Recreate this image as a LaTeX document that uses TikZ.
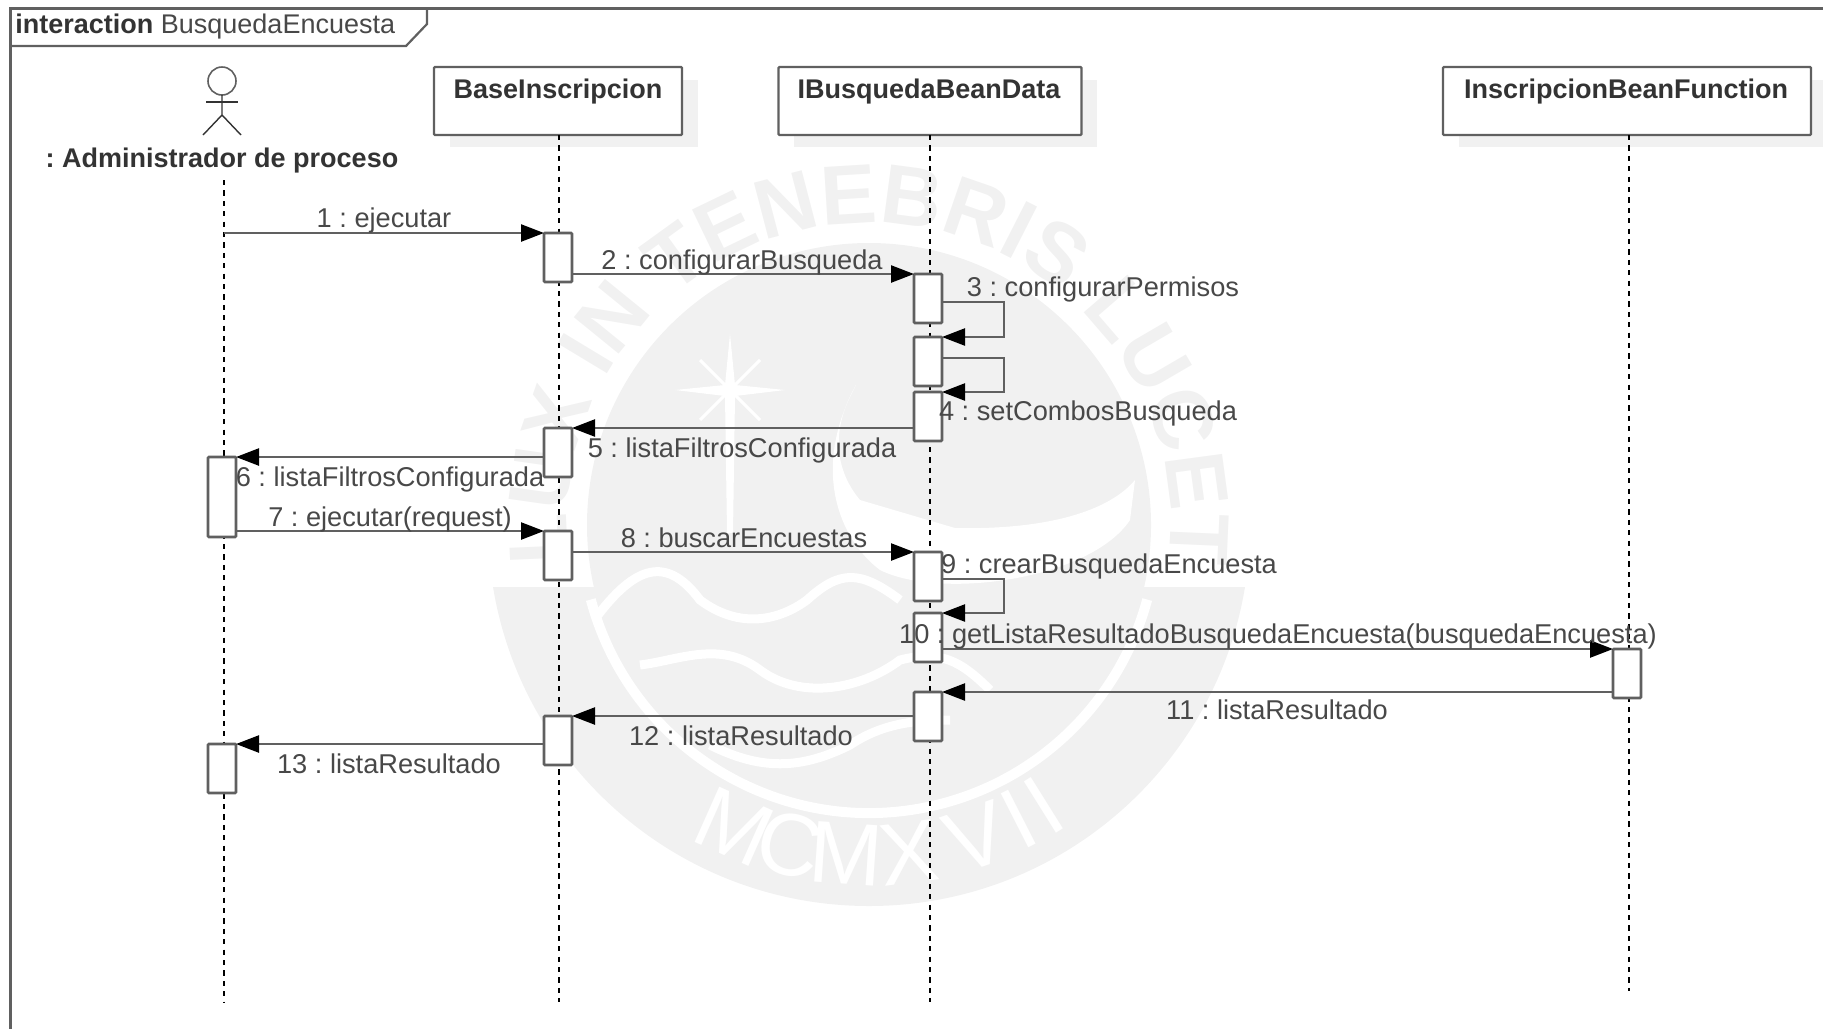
\documentclass[tikz,border=0pt]{standalone}
\usepackage{fontspec}
\setmainfont{Liberation Sans}
\usetikzlibrary{arrows.meta,decorations.text}

\definecolor{wmgray}{HTML}{F1F1F1}
\definecolor{linegray}{HTML}{606060}
\definecolor{textgray}{HTML}{484848}

\tikzset{
  objbox/.style={draw=linegray, fill=white, line width=1.1pt, rounded corners=0.5pt, minimum height=34pt, inner sep=0pt, outer sep=0pt},
  objshadow/.style={fill=wmgray},
  activ/.style={draw=linegray, fill=white, line width=1.3pt, rounded corners=0.5pt, minimum width=14pt, minimum height=24.5pt, anchor=north, inner sep=0pt, outer sep=0pt},
  msg/.style={draw=linegray, line width=1.2pt, -{Triangle[length=11.5pt,width=8.5pt,color=black]}},
  lifeline/.style={draw=black, line width=0.9pt, dash pattern=on 2.6pt off 2.6pt},
  msglabel/.style={text=textgray, font=\fontsize{13.6}{15}\selectfont\frenchspacing, inner sep=0pt, yshift=-1.1pt},
  objlabel/.style={text=black!80, font=\fontsize{13.5}{15}\bfseries\selectfont\frenchspacing, inner sep=0pt, yshift=-1.1pt},
  sealyear/.style={text=white, font=\fontsize{44}{46}\selectfont, inner sep=0pt},
}

\begin{document}
\begin{tikzpicture}[x=0.5pt,y=-0.5pt]
\useasboundingbox (0,0) rectangle (1823,1029);
\coordinate (seal) at (869,525);
\coordinate (bot) at (0,1002);

% sello de fondo
\begin{scope}
\clip (0,587) rectangle (1823,1029);
\fill[wmgray] (seal) circle (190.5pt);
\end{scope}
\fill[wmgray] (seal) circle (141pt);
\draw[white, line width=5pt] ([shift={(195:144pt)}]seal) arc[start angle=195, end angle=345, radius=144pt];
\fill[white] (730,334) -- (735,385) -- (785,390) -- (735,396) -- (733,533) -- (727,533) -- (725,396) -- (675,390) -- (725,385) -- cycle;
\draw[white, line width=1.5pt] (700,360) -- (760,420) (760,360) -- (700,420);
\fill[white] (856,385) .. controls (830,430) and (835,470) .. (860,500) -- (955,528) .. controls (1050,530) and (1110,510) .. (1135,480) -- (1130,520) .. controls (1090,580) and (940,600) .. (880,570) .. controls (840,540) and (810,470) .. (856,385) -- cycle;
\draw[white, line width=4.5pt] (598,615) .. controls (640,560) and (670,560) .. (700,600) .. controls (740,630) and (780,620) .. (807,600) .. controls (840,570) and (860,570) .. (900,600);
\draw[white, line width=4.5pt] (640,665) .. controls (680,660) and (720,640) .. (760,670) .. controls (800,700) and (860,690) .. (900,660) .. controls (940,650) and (960,660) .. (990,690);
\draw[white, line width=4.5pt] (710,745) .. controls (760,770) and (800,770) .. (850,745) .. controls (880,725) and (910,720) .. (950,720);
\path[decorate, decoration={text along path, text align=center, text={|\color{wmgray}\bfseries\fontsize{42}{44}\selectfont|LUX IN TENEBRIS LUCET}}]
  ([shift={(215:151pt)}]seal) arc[start angle=215, end angle=-35, radius=151pt];
\foreach \ch/\ang [count=\k] in {M/246,C/256,M/266,X/277,V/289,I/297,I/302}
  \node[sealyear, rotate=\ang+90] (year\k) at ([shift={(\ang:165pt)}]seal) {\ch};

% marco
\draw[linegray, line width=1.5pt] (1823,8) -- (10,8) -- (10,1029);
\draw[linegray, line width=1.1pt] (10,46) -- (406,46) -- (427,24) -- (427,8);
\node[inner sep=0pt, anchor=west, yshift=-0.6pt, font=\fontsize{13.5}{15}\selectfont] (frametitle) at (15,25) {\textcolor{black!80}{\bfseries interaction} \textcolor{textgray}{BusquedaEncuesta}};

% objetos
\fill[objshadow] (450,80) rectangle (698,147);
\fill[objshadow] (794,80) rectangle (1097,147);
\fill[objshadow] (1459,80) rectangle (1823,147);
\node[objbox, minimum width=124pt] (base) at (558,101) {};
\node[objbox, minimum width=151.5pt] (bean) at (930,101) {};
\node[objbox, minimum width=184pt] (func) at (1627,101) {};
\node[objlabel] (basename) at (558,89) {BaseInscripcion};
\node[objlabel] (beanname) at (929,89) {IBusquedaBeanData};
\node[objlabel] (funcname) at (1626,89) {InscripcionBeanFunction};

% actor
\node[draw=linegray, circle, line width=0.8pt, minimum size=14pt, inner sep=0pt, outer sep=0pt] (head) at (222,81) {};
\draw[black!80, line width=0.7pt] (head.south) -- ++(0,20) coordinate (hip) -- ++(-19,20) (hip) -- ++(19,20);
\draw[black!80, line width=0.7pt] (206,102) -- (238,102);
\node[objlabel] (actorname) at (222,158) {: Administrador de proceso};
\coordinate (actortop) at (224,180);

% lineas de vida
\draw[lifeline] (actortop) -- (actortop |- bot);
\draw[lifeline] (559,135) -- (559,1002);
\draw[lifeline] (bean.south) -- (bean.south |- bot);
\draw[lifeline] (1629,135) -- (1629,991);

% activaciones
\node[activ, minimum height=40pt] (a1) at (222,457) {};
\node[activ] (a2) at (222,744) {};
\foreach \nm/\yy in {b1/233,b2/428,b3/531,b4/716}
  \node[activ] (\nm) at (558,\yy) {};
\foreach \nm/\yy in {i1/274,i2/337,i3/392,i4/552,i5/613,i6/692}
  \node[activ] (\nm) at (928,\yy) {};
\node[activ] (f1) at (1627,649) {};

% mensajes
\coordinate (s3) at (1004,302);
\coordinate (s4) at (1004,358);
\coordinate (s9) at (1004,579);
\draw[msg] (actortop |- b1.north) -- (b1.north west);
\draw[msg] (b1.east |- i1.north) -- (i1.north west);
\draw[msg] (i1.east |- s3) -- (s3) -- (s3 |- i2.north) -- (i2.north east);
\draw[msg] (i2.east |- s4) -- (s4) -- (s4 |- i3.north) -- (i3.north east);
\draw[msg] (i3.west |- b2.north) -- (b2.north east);
\draw[msg] (b2.west |- a1.north) -- (a1.north east);
\draw[msg] (a1.east |- b3.north) -- (b3.north west);
\draw[msg] (b3.east |- i4.north) -- (i4.north west);
\draw[msg] (i4.east |- s9) -- (s9) -- (s9 |- i5.north) -- (i5.north east);
\draw[msg] (i5.east |- f1.north) -- (f1.north west);
\draw[msg] (f1.west |- i6.north) -- (i6.north east);
\draw[msg] (i6.west |- b4.north) -- (b4.north east);
\draw[msg] (b4.west |- a2.north) -- (a2.north east);

\node[msglabel] (m1) at (384,218) {1 : ejecutar};
\node[msglabel] (m2) at (742,260) {2 : configurarBusqueda};
\node[msglabel] (m3) at (1103,287) {3 : configurarPermisos};
\node[msglabel] (m4) at (1088,411) {4 : setCombosBusqueda};
\node[msglabel] (m5) at (742,448) {5 : listaFiltrosConfigurada};
\node[msglabel] (m6) at (390,477) {6 : listaFiltrosConfigurada};
\node[msglabel] (m7) at (390,517) {7 : ejecutar(request)};
\node[msglabel] (m8) at (744,536) {8 : buscarEncuestas};
\node[msglabel] (m9) at (1109,564) {9 : crearBusquedaEncuesta};
\node[msglabel] (m10) at (1278,634) {10 : getListaResultadoBusquedaEncuesta(busquedaEncuesta)};
\node[msglabel] (m11) at (1277,708) {11 : listaResultado};
\node[msglabel] (m12) at (741,734) {12 : listaResultado};
\node[msglabel] (m13) at (389,762) {13 : listaResultado};
\end{tikzpicture}
\end{document}
